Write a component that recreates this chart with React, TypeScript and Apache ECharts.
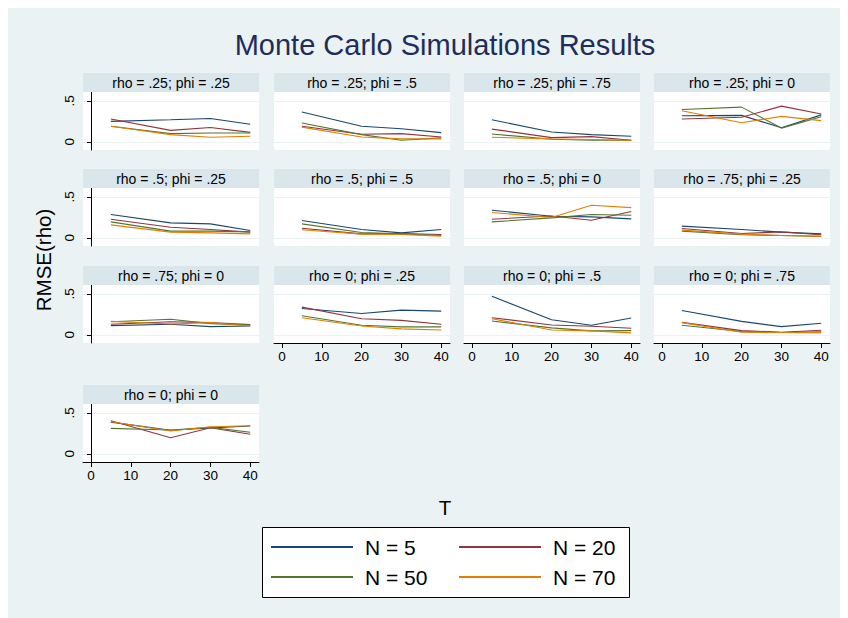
import React, { useEffect, useRef } from 'react';
import * as echarts from 'echarts';

const T = [5, 20, 30, 40];
const panelLabels = [
  'rho = .25; phi = .25', 'rho = .25; phi = .5', 'rho = .25; phi = .75', 'rho = .25; phi = 0',
  'rho = .5; phi = .25', 'rho = .5; phi = .5', 'rho = .5; phi = 0', 'rho = .75; phi = .25',
  'rho = .75; phi = 0', 'rho = 0; phi = .25', 'rho = 0; phi = .5', 'rho = 0; phi = .75',
  'rho = 0; phi = 0',
];
const seriesNames = ['N = 5', 'N = 20', 'N = 50', 'N = 70'];
const seriesColors = ['#1A476F', '#90353B', '#55752F', '#E37E00'];

const N5 = [
  [0.25, 0.27, 0.285, 0.215],
  [0.365, 0.19, 0.16, 0.113],
  [0.27, 0.12, 0.088, 0.068],
  [0.32, 0.324, 0.173, 0.33],
  [0.285, 0.183, 0.171, 0.09],
  [0.212, 0.102, 0.061, 0.102],
  [0.338, 0.265, 0.256, 0.232],
  [0.143, 0.102, 0.07, 0.049],
  [0.113, 0.129, 0.1, 0.109],
  [0.323, 0.262, 0.302, 0.29],
  [0.472, 0.185, 0.117, 0.206],
  [0.298, 0.165, 0.1, 0.141],
  [0.388, 0.288, 0.316, 0.34],
];
const N20 = [
  [0.28, 0.14, 0.176, 0.116],
  [0.19, 0.092, 0.1, 0.06],
  [0.156, 0.052, 0.064, 0.02],
  [0.28, 0.3, 0.437, 0.34],
  [0.228, 0.13, 0.102, 0.07],
  [0.118, 0.049, 0.053, 0.041],
  [0.228, 0.268, 0.216, 0.322],
  [0.114, 0.053, 0.073, 0.037],
  [0.129, 0.161, 0.149, 0.125],
  [0.339, 0.197, 0.177, 0.129],
  [0.21, 0.121, 0.105, 0.081],
  [0.153, 0.052, 0.032, 0.056],
  [0.404, 0.196, 0.32, 0.24],
];
const N50 = [
  [0.19, 0.1, 0.108, 0.108],
  [0.23, 0.088, 0.02, 0.048],
  [0.096, 0.032, 0.02, 0.02],
  [0.396, 0.425, 0.168, 0.308],
  [0.195, 0.082, 0.082, 0.073],
  [0.171, 0.065, 0.049, 0.029],
  [0.195, 0.244, 0.285, 0.277],
  [0.082, 0.037, 0.029, 0.017],
  [0.161, 0.19, 0.137, 0.121],
  [0.234, 0.117, 0.097, 0.097],
  [0.169, 0.085, 0.048, 0.052],
  [0.117, 0.04, 0.028, 0.036],
  [0.312, 0.292, 0.324, 0.264],
];
const N70 = [
  [0.19, 0.088, 0.056, 0.068],
  [0.18, 0.06, 0.036, 0.036],
  [0.056, 0.036, 0.028, 0.02],
  [0.38, 0.233, 0.312, 0.26],
  [0.159, 0.07, 0.061, 0.049],
  [0.098, 0.045, 0.041, 0.021],
  [0.31, 0.248, 0.398, 0.37],
  [0.094, 0.045, 0.029, 0.021],
  [0.165, 0.133, 0.149, 0.109],
  [0.21, 0.109, 0.073, 0.06],
  [0.197, 0.06, 0.048, 0.024],
  [0.149, 0.032, 0.028, 0.024],
  [0.392, 0.28, 0.332, 0.344],
];
const allValues = [N5, N20, N50, N70];

const xTicks = [0, 10, 20, 30, 40];
const yTicks = [0, 0.5];

const FONT = '"Liberation Sans", Arial, Helvetica, sans-serif';
const BG = '#EAF2F3';

export default function App() {
  const ref = useRef<HTMLDivElement>(null);
  useEffect(() => {
    if (!ref.current) return;
    const prevHtml = document.documentElement.style.overflow;
    const prevBody = document.body.style.overflow;
    document.documentElement.style.overflow = 'hidden';
    document.body.style.overflow = 'hidden';
    const chart = echarts.init(ref.current, null, { renderer: 'svg' });

    const colLeft = [75, 266, 456, 646];
    const rowTop = [84, 180, 277, 396];
    const W = 176;
    const H = 58;
    const stripH = 19;

    const grids: any[] = [];
    const xAxes: any[] = [];
    const yAxes: any[] = [];
    const series: any[] = [];
    const graphics: any[] = [];

    panelLabels.forEach((label, i) => {
      const row = Math.floor(i / 4);
      const col = i % 4;
      const left = colLeft[col];
      const top = rowTop[row];
      const showX = i + 4 >= panelLabels.length;
      const showY = col === 0;
      grids.push({
        left, top, width: W, height: H,
        show: true, backgroundColor: '#FFFFFF', borderWidth: 0,
      });
      xAxes.push({
        type: 'value', gridIndex: i, min: -2, max: 42.2,
        axisLine: { show: showX, onZero: false, lineStyle: { color: '#000', width: 1 } },
        axisTick: { show: showX, length: 5, customValues: xTicks, lineStyle: { color: '#000' } },
        axisLabel: {
          show: showX, customValues: xTicks, margin: 6,
          color: '#000', fontSize: 13.5, fontFamily: FONT,
        },
        splitLine: { show: false },
      });
      yAxes.push({
        type: 'value', gridIndex: i, min: -0.1, max: 0.61,
        axisLine: { show: showY, lineStyle: { color: '#000', width: 1 } },
        axisTick: { show: showY, length: 4, customValues: yTicks, lineStyle: { color: '#000' } },
        axisLabel: {
          show: showY, customValues: yTicks, rotate: 90, margin: 7,
          color: '#000', fontSize: 13.5, fontFamily: FONT,
          formatter: (v: number) => (v === 0 ? '0' : String(v).replace(/^0/, '')),
        },
        splitLine: { show: true, lineStyle: { color: BG, width: 1 } },
      });
      allValues.forEach((vals, s) => {
        series.push({
          type: 'line', name: seriesNames[s], xAxisIndex: i, yAxisIndex: i,
          data: T.map((t, k) => [t, vals[i][k]]),
          symbol: 'none', showSymbol: false,
          lineStyle: { color: seriesColors[s], width: 1.1 },
          itemStyle: { color: seriesColors[s] },
          z: 3 + s,
        });
      });
      graphics.push({
        type: 'rect', shape: { x: left, y: top - stripH, width: W, height: stripH },
        style: { fill: '#D9E6EB' }, z: 1,
      });
      graphics.push({
        type: 'text', x: left + W / 2, y: top - stripH / 2, z: 2,
        style: {
          text: label, fill: '#000', fontSize: 14, fontFamily: FONT,
          textAlign: 'center', textVerticalAlign: 'middle',
        },
      });
    });

    graphics.push({
      type: 'text', x: 437, y: 37, z: 2,
      style: {
        text: 'Monte Carlo Simulations Results', fill: '#1E2D5A', fontSize: 29, fontFamily: FONT,
        textAlign: 'center', textVerticalAlign: 'middle',
      },
    });
    graphics.push({
      type: 'text', x: 35, y: 252, rotation: Math.PI / 2, z: 2,
      style: {
        text: 'RMSE(rho)', fill: '#000', fontSize: 20.5, fontFamily: FONT,
        textAlign: 'center', textVerticalAlign: 'middle',
      },
    });
    graphics.push({
      type: 'text', x: 437, y: 499, z: 2,
      style: {
        text: 'T', fill: '#000', fontSize: 20.5, fontFamily: FONT,
        textAlign: 'center', textVerticalAlign: 'middle',
      },
    });
    graphics.push({
      type: 'rect', shape: { x: 254.5, y: 519.5, width: 367, height: 70 }, z: 0,
      style: { fill: '#FFFFFF', stroke: '#000', lineWidth: 1 },
    });

    const legendBase = {
      orient: 'vertical', top: 527, padding: 0, itemGap: 6,
      itemWidth: 82, itemHeight: 2, icon: 'rect',
      textStyle: { fontSize: 21, fontFamily: FONT, color: '#000', lineHeight: 24, padding: [0, 0, 0, 7] },
      selectedMode: false, z: 5,
    };

    chart.setOption({
      animation: false,
      backgroundColor: BG,
      grid: grids,
      xAxis: xAxes,
      yAxis: yAxes,
      series,
      graphic: { elements: graphics },
      legend: [
        { ...legendBase, left: 263, data: ['N = 5', 'N = 50'] },
        { ...legendBase, left: 451, data: ['N = 20', 'N = 70'] },
      ],
    });
    return () => {
      chart.dispose();
      document.documentElement.style.overflow = prevHtml;
      document.body.style.overflow = prevBody;
    };
  }, []);
  return <div ref={ref} style={{ width: 848, height: 618 }} />;
}
